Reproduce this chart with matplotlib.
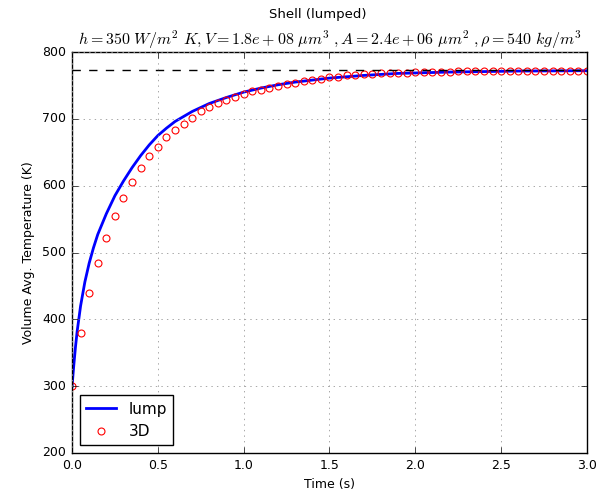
import matplotlib
matplotlib.use("Agg")
import matplotlib.pyplot as plt

plt.style.use("classic")

# Lumped model curve
lump_t = [0.0, 0.01, 0.02, 0.03, 0.05, 0.075, 0.1, 0.125, 0.15, 0.2, 0.25, 0.3,
          0.35, 0.4, 0.45, 0.5, 0.55, 0.6, 0.7, 0.8, 0.9, 1.0, 1.1, 1.2, 1.3,
          1.4, 1.5, 1.7, 1.9, 2.2, 2.6, 3.0]
lump_T = [299, 330, 358, 382, 420, 456, 484, 507, 527, 558, 585, 607,
          627, 645, 661, 675, 686, 696, 711, 723, 732, 740, 746, 751, 755,
          758, 761, 765, 768, 770, 771.5, 772]

# 3D simulation points (every 0.05 s)
d3_t = [round(0.05 * i, 2) for i in range(61)]
d3_T = [300, 379, 439, 484, 521, 554, 582, 605, 626, 644, 658,
        673, 684, 693, 702, 711, 718, 724, 728, 733, 737,
        741, 743, 746, 749, 752, 754, 756, 758, 760, 762,
        763, 765, 766, 767, 767.5, 768, 768.5, 769, 769, 769.5,
        770, 770, 770.5, 770.5, 771, 771, 771, 771.2, 771.4, 771.5,
        771.6, 771.7, 771.8, 771.8, 771.9, 771.9, 772, 772, 772, 772]

T_inf = 773

fig = plt.figure(figsize=(5.98, 4.94), dpi=100, facecolor="white")
ax = fig.add_axes([0.1204, 0.083, 0.8612, 0.8117])

ax.plot(lump_t, lump_T, color="b", lw=2, label="lump")
ax.plot(d3_t, d3_T, linestyle="none", marker="o", ms=5, mfc="none",
        mec="r", mew=0.8, label="3D")
ax.axhline(T_inf, color="k", ls="--", lw=1)

ax.set_xlim(0, 3.0)
ax.set_ylim(200, 800)
ax.set_xticks([0.0, 0.5, 1.0, 1.5, 2.0, 2.5, 3.0])
ax.set_yticks([200, 300, 400, 500, 600, 700, 800])
ax.tick_params(labelsize=9)
ax.grid(True, color="0.6", ls=":", lw=0.6)

ax.set_xlabel("Time (s)", fontsize=9)
ax.set_ylabel("Volume Avg. Temperature (K)", fontsize=9)
ax.set_title(r"$h=350\ W/m^2\ K, V=1.8e+08\ \mu m^3\ , A=2.4e+06\ \mu m^2\ , \rho=540\ kg/m^3$",
             fontsize=11.5)
fig.text(0.532, 0.97, "Shell (lumped)", ha="center", va="center", fontsize=9.5)

leg = ax.legend(loc="lower left", numpoints=1, fontsize=11)

fig.savefig("out.png", dpi=100, facecolor="white")
